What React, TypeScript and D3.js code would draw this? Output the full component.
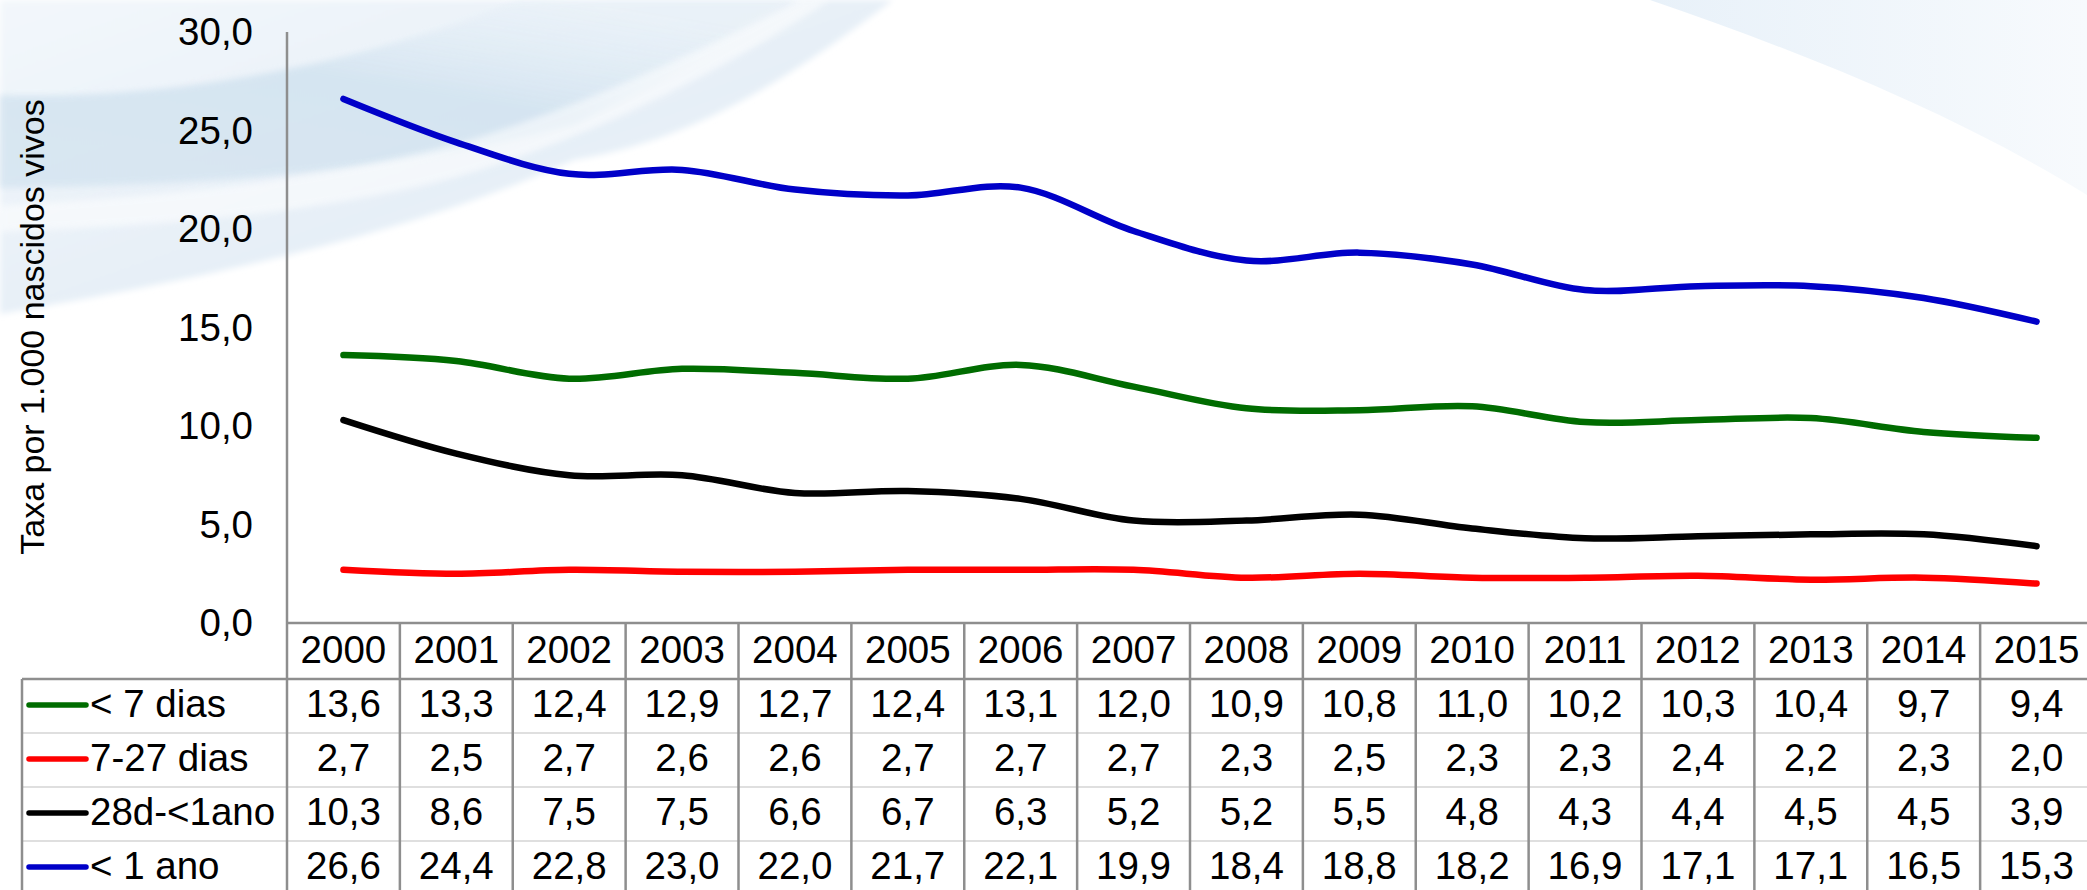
import React from "react";
import * as d3 from "d3";

const years = ["2000","2001","2002","2003","2004","2005","2006","2007","2008","2009","2010","2011","2012","2013","2014","2015"];
const lt7dias = [13.6,13.3,12.4,12.9,12.7,12.4,13.1,12.0,10.9,10.8,11.0,10.2,10.3,10.4,9.7,9.4];
const d7a27dias = [2.7,2.5,2.7,2.6,2.6,2.7,2.7,2.7,2.3,2.5,2.3,2.3,2.4,2.2,2.3,2.0];
const d28aMenos1ano = [10.3,8.6,7.5,7.5,6.6,6.7,6.3,5.2,5.2,5.5,4.8,4.3,4.4,4.5,4.5,3.9];
const lt1ano = [26.6,24.4,22.8,23.0,22.0,21.7,22.1,19.9,18.4,18.8,18.2,16.9,17.1,17.1,16.5,15.3];
const yTicks = [0,5,10,15,20,25,30];
const seriesNames = ["< 7 dias","7-27 dias","28d-<1ano","< 1 ano"];
const seriesColors = ["#006c00","#ff0000","#000000","#0000c8"];
const yTitle = "Taxa por 1.000 nascidos vivos";

const W = 2087, H = 890;
const FONT = "'Liberation Sans', Arial, sans-serif";
const FS = 38.5;

export default function App() {
  const seriesValues = [lt7dias, d7a27dias, d28aMenos1ano, lt1ano];
  const x = d3.scaleBand<string>().domain(years).range([287, 2093]).paddingInner(0).paddingOuter(0);
  const y = d3.scaleLinear().domain([0, 30]).range([623, 32]);
  const cx = (yr: string) => (x(yr) as number) + x.bandwidth() / 2;
  const line = d3.line<number>()
    .x((_, i) => cx(years[i]))
    .y((v) => y(v))
    .curve(d3.curveCardinal.tension(0));
  const fmt = (v: number) => v.toFixed(1).replace(".", ",");

  const headerTop = y(0);
  const headerBottom = 679;
  const rowH = 54;
  const tableLeft = 22;
  const gridColor = "#8e8e8e";
  const faint = "#d4d4d4";

  return (
    <svg width={W} height={H} style={{ position: "absolute", left: 0, top: 0, background: "#fff" }} fontFamily={FONT}>
      <defs>
        <linearGradient id="bgA" x1="0" y1="0" x2="1" y2="1">
          <stop offset="0" stopColor="#f3f7fb" />
          <stop offset="0.55" stopColor="#e6eff7" />
          <stop offset="1" stopColor="#f4f8fc" />
        </linearGradient>
        <linearGradient id="bgB" x1="0" y1="1" x2="0.7" y2="0">
          <stop offset="0" stopColor="#d6e5f1" />
          <stop offset="0.6" stopColor="#d2e3f0" />
          <stop offset="1" stopColor="#e8f1f8" stopOpacity="0.4" />
        </linearGradient>
        <linearGradient id="bgC" x1="0" y1="0" x2="1" y2="0">
          <stop offset="0" stopColor="#e8f1f9" />
          <stop offset="1" stopColor="#f7fafd" />
        </linearGradient>
        <filter id="blur" x="-10%" y="-10%" width="120%" height="120%">
          <feGaussianBlur stdDeviation="3" />
        </filter>
      </defs>
      <rect x={0} y={0} width={W} height={H} fill="#fff" />
      {/* background swooshes */}
      <path d="M0,0 H893 C800,70 700,140 574,160 C450,215 300,262 0,314 Z" fill="url(#bgA)" filter="url(#blur)" />
      <path d="M0,95 C160,100 320,70 470,20 L520,0 H797 C740,35 680,75 574,125 C420,165 250,185 0,188 Z" fill="url(#bgB)" filter="url(#blur)" opacity={0.85} />
      <path d="M0,205 C160,198 330,180 470,140 C600,100 720,40 800,0 H830 C740,60 620,125 480,170 C330,215 160,225 0,232 Z" fill="#ffffff" opacity={0.55} filter="url(#blur)" />
      <path d="M1650,0 C1790,48 1950,110 2087,195 V0 Z" fill="url(#bgC)" />

      {/* y axis title */}
      <text transform={`translate(44,${327}) rotate(-90)`} textAnchor="middle" fontSize={34} fill="#000">{yTitle}</text>

      {/* y tick labels */}
      {yTicks.map((t) => (
        <text key={t} x={253} y={y(t)} dy="0.35em" textAnchor="end" fontSize={FS} fill="#000">{fmt(t)}</text>
      ))}

      {/* y axis line */}
      <line x1={287} x2={287} y1={32} y2={headerTop} stroke={gridColor} strokeWidth={2.5} />

      {/* series lines */}
      {seriesValues.map((vals, si) => (
        <path key={si} d={line(vals) as string} fill="none" stroke={seriesColors[si]} strokeWidth={6.5} strokeLinecap="round" strokeLinejoin="round" />
      ))}

      {/* table */}
      {[1, 2, 3].map((r) => (
        <line key={r} x1={tableLeft} x2={W} y1={headerBottom + r * rowH} y2={headerBottom + r * rowH} stroke={faint} strokeWidth={1.5} />
      ))}
      <line x1={287} x2={W} y1={headerTop} y2={headerTop} stroke={gridColor} strokeWidth={2.5} />
      <line x1={tableLeft} x2={W} y1={headerBottom} y2={headerBottom} stroke={gridColor} strokeWidth={2.5} />
      <line x1={tableLeft} x2={tableLeft} y1={headerBottom} y2={H} stroke={gridColor} strokeWidth={2.5} />
      {years.map((yr) => (
        <line key={"v" + yr} x1={x(yr) as number} x2={x(yr) as number} y1={headerTop} y2={H} stroke={gridColor} strokeWidth={2.5} />
      ))}
      <line x1={(x(years[years.length - 1]) as number) + x.bandwidth()} x2={(x(years[years.length - 1]) as number) + x.bandwidth()} y1={headerTop} y2={H} stroke={gridColor} strokeWidth={2.5} />

      {/* header */}
      {years.map((yr) => (
        <text key={"h" + yr} x={cx(yr)} y={(headerTop + headerBottom) / 2 - 1} dy="0.35em" textAnchor="middle" fontSize={FS} fill="#000">{yr}</text>
      ))}

      {/* rows */}
      {seriesValues.map((vals, si) => {
        const rc = headerBottom + si * rowH + rowH / 2 - 2;
        return (
          <g key={"r" + si}>
            <line x1={29} x2={86} y1={rc + 1} y2={rc + 1} stroke={seriesColors[si]} strokeWidth={5.5} strokeLinecap="round" />
            <text x={90} y={rc} dy="0.35em" fontSize={FS} fill="#000">{seriesNames[si]}</text>
            {vals.map((v, i) => (
              <text key={i} x={cx(years[i])} y={rc} dy="0.35em" textAnchor="middle" fontSize={FS} fill="#000">{fmt(v)}</text>
            ))}
          </g>
        );
      })}
    </svg>
  );
}
